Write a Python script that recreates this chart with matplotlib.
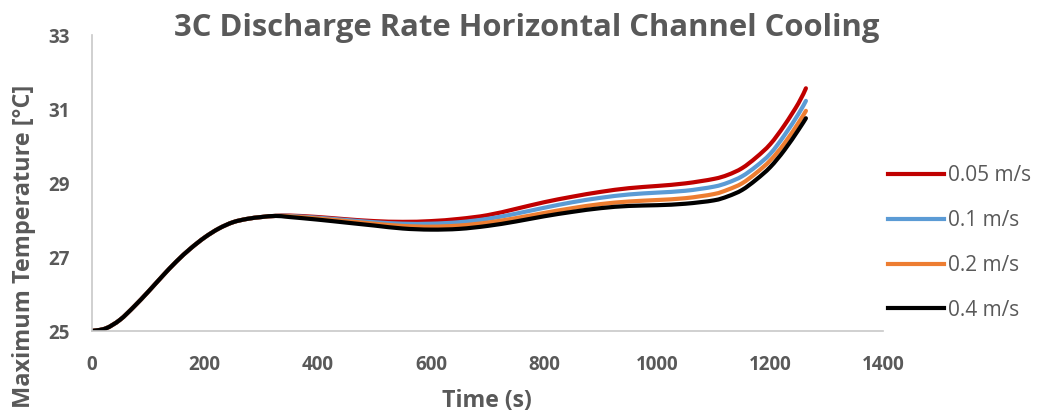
import matplotlib
matplotlib.use("Agg")
import matplotlib.pyplot as plt
from matplotlib.path import Path
from matplotlib.patches import PathPatch
from matplotlib.lines import Line2D

# ---- data ---------------------------------------------------------------
time_s = [0, 25, 50, 75, 100, 125, 150, 175, 200, 225, 250, 275, 300, 325,
          350, 400, 450, 500, 550, 600, 650, 700, 750, 800, 850, 900, 950,
          1000, 1050, 1100, 1125, 1150, 1175, 1200, 1225, 1250, 1263]

warmup = [25.00, 25.07, 25.30, 25.66, 26.06, 26.48, 26.88, 27.23, 27.53,
          27.77, 27.94, 28.03, 28.08, 28.11]

temp_005 = warmup + [28.12, 28.08, 28.02, 27.97, 27.95, 27.97, 28.03, 28.13,
                     28.30, 28.48, 28.63, 28.76, 28.86, 28.92, 28.99, 29.11,
                     29.22, 29.40, 29.69, 30.05, 30.56, 31.16, 31.56]
temp_01 = warmup + [28.11, 28.06, 28.00, 27.94, 27.90, 27.90, 27.94, 28.03,
                    28.17, 28.33, 28.48, 28.60, 28.69, 28.74, 28.79, 28.90,
                    29.01, 29.18, 29.45, 29.79, 30.29, 30.87, 31.22]
temp_02 = warmup + [28.10, 28.04, 27.97, 27.90, 27.84, 27.82, 27.85, 27.93,
                    28.05, 28.19, 28.32, 28.43, 28.50, 28.54, 28.59, 28.70,
                    28.82, 28.99, 29.27, 29.61, 30.07, 30.63, 30.95]
temp_04 = warmup + [28.08, 28.01, 27.93, 27.85, 27.77, 27.74, 27.76, 27.84,
                    27.96, 28.10, 28.22, 28.32, 28.38, 28.40, 28.44, 28.53,
                    28.64, 28.81, 29.09, 29.43, 29.89, 30.44, 30.75]

series_labels = ["0.05 m/s", "0.1 m/s", "0.2 m/s", "0.4 m/s"]
series_values = [temp_005, temp_01, temp_02, temp_04]
series_colors = ["#C00000", "#5B9BD5", "#ED7D31", "#000000"]

x_ticks = [0, 200, 400, 600, 800, 1000, 1200, 1400]
y_ticks = [25, 27, 29, 31, 33]

# ---- style --------------------------------------------------------------
FONT = "Open Sans"
GREY = "#595959"
LW = 3.0


def smooth_path(xs, ys):
    """Smoothed (cubic Bezier) path through every data point."""
    pts = list(zip(xs, ys))
    verts = [pts[0]]
    codes = [Path.MOVETO]
    n = len(pts)
    for i in range(n - 1):
        p0 = pts[i - 1] if i > 0 else pts[i]
        p1 = pts[i]
        p2 = pts[i + 1]
        p3 = pts[i + 2] if i + 2 < n else pts[i + 1]
        c1 = (p1[0] + (p2[0] - p0[0]) / 6.0, p1[1] + (p2[1] - p0[1]) / 6.0)
        c2 = (p2[0] - (p3[0] - p1[0]) / 6.0, p2[1] - (p3[1] - p1[1]) / 6.0)
        verts += [c1, c2, p2]
        codes += [Path.CURVE4] * 3
    return Path(verts, codes)


fig = plt.figure(figsize=(10.38, 4.15), dpi=100)
ax = fig.add_axes([91.6 / 1038, 1 - 331 / 415, (883.4 - 91.6) / 1038, (331 - 35) / 415])

for vals, col in zip(series_values, series_colors):
    patch = PathPatch(smooth_path(time_s, vals), fill=False, edgecolor=col,
                      linewidth=LW, capstyle="round", joinstyle="round")
    ax.add_patch(patch)

ax.set_xlim(0, 1400)
ax.set_ylim(25, 33)
ax.set_xticks(x_ticks)
ax.set_yticks(y_ticks)
ax.set_xticklabels([str(v) for v in x_ticks], fontfamily=FONT, fontweight="bold",
                   fontsize=13.5, color=GREY)
ax.set_yticklabels([str(v) for v in y_ticks], fontfamily=FONT, fontweight="bold",
                   fontsize=13.5, color=GREY)
ax.tick_params(axis="both", length=0)
ax.tick_params(axis="x", pad=17)
ax.tick_params(axis="y", pad=16)

for side in ("top", "right"):
    ax.spines[side].set_visible(False)
for side in ("left", "bottom"):
    ax.spines[side].set_color("#C8C8C8")
    ax.spines[side].set_linewidth(1.2)

fig.text(527 / 1038, 1 - 28 / 415, "3C Discharge Rate Horizontal Channel Cooling",
         ha="center", va="center", fontfamily=FONT, fontweight="bold",
         fontsize=22.3, color=GREY)
fig.text(487 / 1038, 1 - 401 / 415, "Time (s)", ha="center", va="center",
         fontfamily=FONT, fontweight="bold", fontsize=16.7, color=GREY)
fig.text(24 / 1038, 1 - 246 / 415, "Maximum Temperature [°C]", ha="center",
         va="center", rotation=90, fontfamily=FONT, fontweight="bold",
         fontsize=16.9, color=GREY)

handles = [Line2D([], [], color=c, linewidth=LW) for c in series_colors]
leg = fig.legend(handles, series_labels, loc="center left",
                 bbox_to_anchor=(880 / 1038, 1 - 243 / 415), frameon=False,
                 prop={"family": FONT, "size": 15}, handlelength=2.65,
                 handletextpad=0.2, labelspacing=1.14, borderaxespad=0)
for t in leg.get_texts():
    t.set_color(GREY)

fig.savefig("out.png", dpi=100)
